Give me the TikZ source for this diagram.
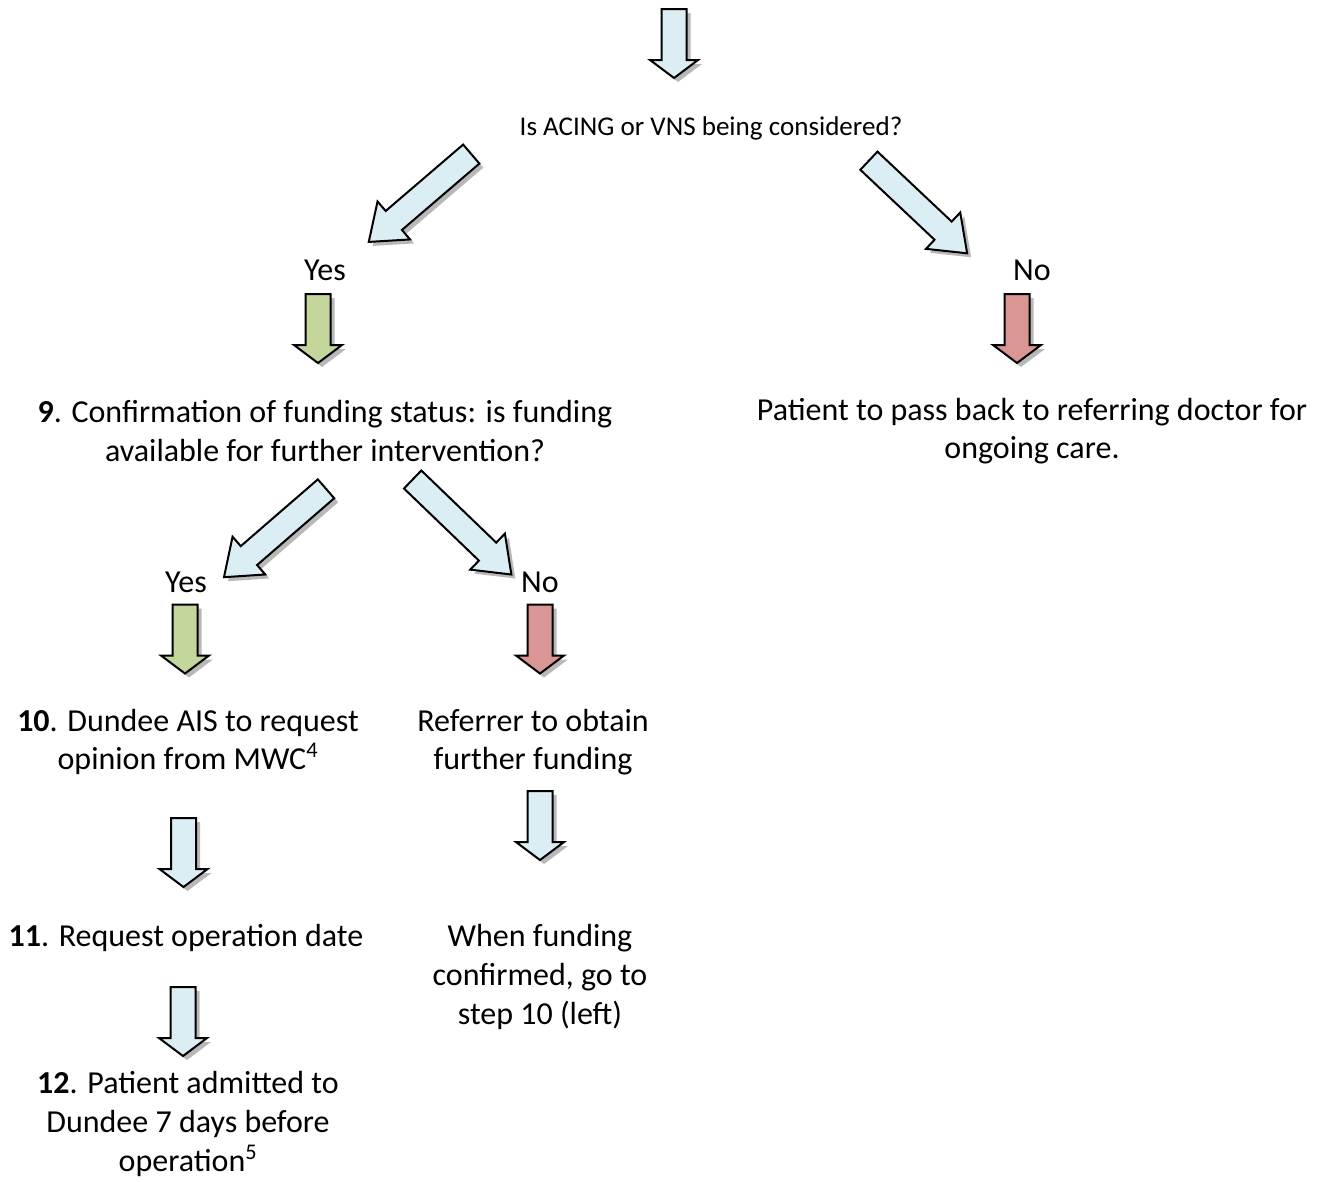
\documentclass[tikz,border=0pt]{standalone}
\usepackage{fontspec}
\setmainfont{Carlito}
\usetikzlibrary{positioning}
\definecolor{paleblue}{RGB}{219,238,244}
\definecolor{palegreen}{RGB}{195,214,155}
\definecolor{palered}{RGB}{217,150,148}
% colour, centre, angle, half length, head length, head half width
\newcommand{\blockarrow}[6]{%
  \fill [black!28,shift={#2},xshift=3pt,yshift=-3pt,rotate=#3]
    (-#4,-12.5) -- (#4-#5,-12.5) -- (#4-#5,-#6) -- (#4,0) -- (#4-#5,#6) -- (#4-#5,12.5) -- (-#4,12.5) -- cycle;
  \draw [line width=1.5pt,fill=#1,shift={#2},rotate=#3]
    (-#4,-12.5) -- (#4-#5,-12.5) -- (#4-#5,-#6) -- (#4,0) -- (#4-#5,#6) -- (#4-#5,12.5) -- (-#4,12.5) -- cycle;}

\begin{document}
\begin{tikzpicture}[x=0.75pt,y=-0.75pt]
\tikzstyle{txt}=[align=center,inner sep=0pt,font=\fontsize{24}{29}\selectfont]
\tikzstyle{smalltxt}=[align=center,inner sep=0pt,font=\fontsize{20.3}{29}\selectfont]
\useasboundingbox (0,0) rectangle (1322,1182);
% questions and answers
\node [smalltxt] at (711,128) (q) {Is ACING or VNS being considered?};
\node [txt] at (325,270) (yes1) {Yes};
\node [txt] at (1032,270) (no1) {No};
\node [txt] at (325,431) (s9) {\textbf{9}. Confirmation of funding status: is funding\\available for further intervention?};
\node [txt] at (1032,431) (back) {Patient to pass back to referring doctor for\\ongoing care.};
\node [txt] at (186,582) (yes2) {Yes};
\node [txt] at (540,582) (no2) {No};
\node [txt] at (188,742) (s10) {\textbf{10}. Dundee AIS to request\\opinion from MWC\textsuperscript{4}};
\node [txt] at (533,742) (refer) {Referrer to obtain\\further funding};
\node [txt] at (186,938) (s11) {\textbf{11}. Request operation date};
\node [txt] at (540,977) (when) {When funding\\confirmed, go to\\step 10 (left)};
\node [txt] at (188,1124) (s12) {\textbf{12}. Patient admitted to\\Dundee 7 days before\\operation\textsuperscript{5}};
% block arrows
\blockarrow{paleblue}{(674,43.5)}{270}{34.5}{18}{24}
\blockarrow{paleblue}{(420,198)}{220.6}{67.5}{33}{25}
\blockarrow{paleblue}{(918,207)}{316.7}{67.5}{33}{25}
\blockarrow{palegreen}{(318,328.5)}{270}{34.5}{18}{24}
\blockarrow{palered}{(1017,328.5)}{270}{34.5}{18}{24}
\blockarrow{paleblue}{(275,533)}{220.9}{67.5}{33}{25}
\blockarrow{paleblue}{(462,527)}{316.1}{68.5}{33}{25}
\blockarrow{palegreen}{(185,639)}{270}{34.5}{18}{24}
\blockarrow{palered}{(540,639)}{270}{34.5}{18}{24}
\blockarrow{paleblue}{(183.5,852.5)}{270}{34.5}{18}{24}
\blockarrow{paleblue}{(540,825.5)}{270}{34.5}{18}{24}
\blockarrow{paleblue}{(183,1021.5)}{270}{34.5}{18}{24}
\end{tikzpicture}
\end{document}
